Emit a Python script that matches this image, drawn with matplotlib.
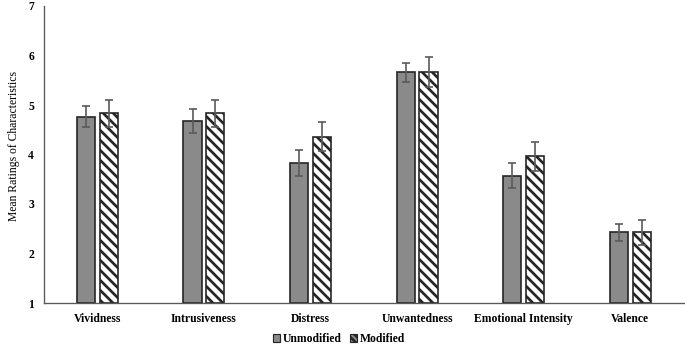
import matplotlib
matplotlib.use("Agg")
import matplotlib.pyplot as plt
import numpy as np
from matplotlib.patches import Patch

categories = ["Vividness", "Intrusiveness", "Distress", "Unwantedness",
              "Emotional Intensity", "Valence"]
unmodified = [4.76, 4.68, 3.83, 5.66, 3.57, 2.43]
unmodified_err = [0.21, 0.24, 0.26, 0.19, 0.25, 0.17]
modified = [4.83, 4.83, 4.36, 5.66, 3.96, 2.43]
modified_err = [0.28, 0.28, 0.29, 0.30, 0.29, 0.25]

plt.rcParams["font.family"] = ["Liberation Serif", "DejaVu Serif"]
plt.rcParams["hatch.linewidth"] = 1.6
plt.rcParams["hatch.color"] = "#262626"

dpi = 120
fig = plt.figure(figsize=(685 / dpi, 347 / dpi), dpi=dpi)
ax = fig.add_axes([44 / 685, 1 - 303 / 347, 1 - 44 / 685 - 0.002, 297 / 347])

x = np.arange(len(categories))
w = 0.17
off = 0.107
err_kw = dict(ecolor="#5a5a5a", elinewidth=1.0, capsize=2.5, capthick=1.0)

ax.bar(x - off, np.array(unmodified) - 1, w, bottom=1, color="#8a8a8a",
       edgecolor="#262626", linewidth=1.0, yerr=unmodified_err,
       error_kw=err_kw, zorder=2)
ax.bar(x + off, np.array(modified) - 1, w, bottom=1, color="white",
       edgecolor="#262626", linewidth=1.0, hatch="\\\\\\\\", yerr=modified_err,
       error_kw=err_kw, zorder=2)

ax.set_xlim(-0.5, len(categories) - 0.5)
ax.set_ylim(1, 7)
ax.set_yticks(range(1, 8))
ax.set_xticks(x)
ax.set_xticklabels(categories, fontsize=7, fontweight="bold")
ax.tick_params(axis="y", labelsize=7, length=0, pad=6)
ax.tick_params(axis="x", length=0, pad=6)
for lab in ax.get_yticklabels():
    lab.set_fontweight("bold")

ax.set_ylabel("Mean Ratings of Characteristics", fontsize=7)
ax.yaxis.set_label_coords(-0.038, 0.53)

for s in ["top", "right"]:
    ax.spines[s].set_visible(False)
ax.spines["left"].set_color("#595959")
ax.spines["bottom"].set_color("#595959")
ax.spines["left"].set_linewidth(0.8)
ax.spines["bottom"].set_linewidth(0.8)

handles = [Patch(facecolor="#8a8a8a", edgecolor="#262626", linewidth=0.7),
           Patch(facecolor="#8a8a8a", edgecolor="#262626", linewidth=0.7, hatch="\\\\\\\\\\\\")]
fig.legend(handles, ["Unmodified", "Modified"], loc="center",
           bbox_to_anchor=(339 / 685, 1 - 339 / 347), ncol=2, frameon=False,
           prop={"weight": "bold", "size": 7},
           handlelength=0.6, handleheight=0.6, handletextpad=0.2,
           columnspacing=0.8, borderpad=0)

fig.savefig("out.png", dpi=dpi)
